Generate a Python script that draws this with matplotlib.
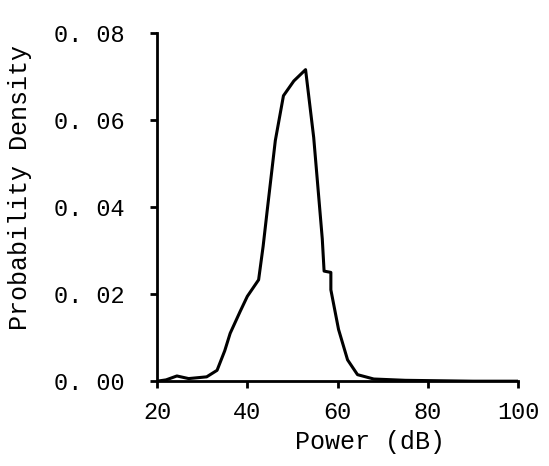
import matplotlib.pyplot as plt
import numpy as np

# power (dB) and probability density
power = [20, 22, 24.4, 27, 31, 33.3, 35, 36.2, 38.4, 40, 42.5, 43.5, 44.4, 46.2,
         48, 50.3, 52.9, 54.7, 56.6, 57, 58.5, 58.5, 60.2, 62.2, 64.4, 68, 75, 90, 100]
density = [0.0, 0.0003, 0.0012, 0.0006, 0.0010, 0.0025, 0.0070, 0.0110, 0.0160,
           0.0195, 0.0233, 0.0310, 0.0392, 0.0553, 0.0656, 0.0690, 0.0716, 0.0560,
           0.0327, 0.0253, 0.0250, 0.0210, 0.0119, 0.0049, 0.0015, 0.0005, 0.0002,
           0.0, 0.0]

x_ticks = [20, 40, 60, 80, 100]
y_ticks = [0.0, 0.02, 0.04, 0.06, 0.08]
y_tick_labels = ["0. 00", "0. 02", "0. 04", "0. 06", "0. 08"]

plt.rcParams['font.family'] = ['Liberation Mono', 'DejaVu Sans Mono']

fig = plt.figure(figsize=(5.49, 4.66), dpi=100)
ax = fig.add_axes([0.286, 0.182, 0.658, 0.747])

ax.plot(np.array(power), np.array(density), color='black', linewidth=2.2)

ax.set_xlim(20, 100)
ax.set_ylim(0, 0.08)
ax.set_xticks(x_ticks)
ax.set_yticks(y_ticks)
ax.set_yticklabels(y_tick_labels)

for side in ['top', 'right']:
    ax.spines[side].set_visible(False)
for side in ['left', 'bottom']:
    ax.spines[side].set_linewidth(2.0)

ax.tick_params(axis='both', labelsize=17, width=2, length=5, direction='out')
ax.tick_params(axis='y', pad=18)
ax.tick_params(axis='x', pad=9)

ax.set_xlabel("Power (dB)", fontsize=18)
ax.set_ylabel("Probability Density", fontsize=18)
ax.xaxis.set_label_coords(0.59, -0.14)
ax.yaxis.set_label_coords(-0.345, 0.555)

fig.savefig("out.png", dpi=100, facecolor='white')
